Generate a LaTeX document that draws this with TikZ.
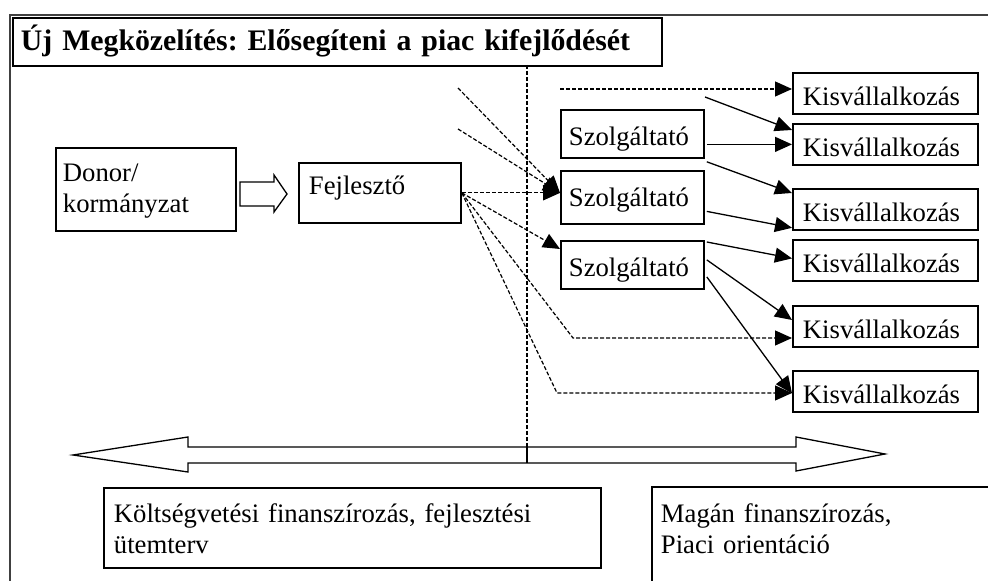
\documentclass[tikz,border=0pt]{standalone}
\usepackage{fontspec}
\setmainfont{Liberation Serif}
\usetikzlibrary{arrows.meta}
\usetikzlibrary{calc}

\definecolor{framegray}{gray}{0.25}
\newcommand{\diagfont}{\fontsize{13.35pt}{15.5pt}\selectfont}
\newcommand{\headfont}{\fontsize{14.9pt}{18pt}\selectfont\bfseries}
\frenchspacing

\tikzset{
    box/.style={draw, line width=0.9pt, anchor=north west, align=left, inner ysep=2pt},
    kbox/.style={box, text width=82.5pt, inner xsep=5pt, text height=14.5pt, text depth=2pt},
    sbox/.style={box, text width=63.5pt, inner xsep=4pt, text height=16pt, text depth=4pt},
    link/.style={line width=0.65pt, -{Triangle[length=8.5pt,width=7.5pt]}},
    dlink/.style={link, line width=0.6pt, dash pattern=on 2pt off 1pt},
}

\begin{document}
\begin{tikzpicture}[x=0.5pt, y=-0.5pt, font=\diagfont]

\useasboundingbox (0,0) rectangle (988,581);

% Frame
\draw[framegray, line width=1pt] (988,15) -- (10,15) -- (10,581);

% Title
\node[box, text width=316.5pt, inner xsep=4pt, text height=14.5pt, text depth=5.5pt, font=\headfont] (title) at (12,17)
    {\mbox{Új Megközelítés: Elősegíteni a piac kifejlődését}};

% Boxes
\node[box, text width=83pt, inner xsep=3.5pt, text height=15pt, text depth=22.5pt] (donor) at (55,147) {Donor/\\kormányzat};
\node[box, text width=71pt, inner xsep=5pt, text height=14pt, text depth=12pt] (fej) at (298,162) {Fejlesztő};

\node[sbox] (sz1) at (560,109) {Szolgáltató};
\node[sbox, text depth=6.5pt] (sz2) at (560,170) {Szolgáltató};
\node[sbox] (sz3) at (560,240) {Szolgáltató};

\node[kbox] (k1) at (792,72) {Kisvállalkozás};
\node[kbox] (k2) at (792,123) {Kisvállalkozás};
\node[kbox] (k3) at (792,188) {Kisvállalkozás};
\node[kbox] (k4) at (792,239) {Kisvállalkozás};
\node[kbox] (k5) at (792,305) {Kisvállalkozás};
\node[kbox] (k6) at (792,370) {Kisvállalkozás};

\node[box, text width=238.5pt, inner xsep=5pt, text height=15.5pt, text depth=20.5pt] (kolt) at (103,487)
    {Költségvetési finanszírozás, fejlesztési\\ütemterv};
\node[box, draw=none, text width=160pt, inner xsep=4pt, text height=15.5pt, text depth=27.5pt] (magan) at (652,487)
    {Magán finanszírozás,\\Piaci orientáció};
\draw[line width=0.9pt] (magan.south west) -- (magan.north west) -- (magan.north east);

% Hollow arrows
\draw[line width=0.65pt] (240,182) -- (274,182) -- (274,175) -- (287,194) -- (274,212) -- (274,206) -- (240,206) -- cycle;
\draw[line width=0.65pt] (73,455) -- (188,437) -- (188,447) -- (796,447) -- (796,437) -- (885,454)
    -- (796,471) -- (796,463) -- (188,463) -- (188,472) -- cycle;

% Coordinates
\coordinate (divtop) at (527,65);
\coordinate (divmid) at (527,447);
\coordinate (divlow) at (527,463);
\coordinate (d1) at (560,89);
\coordinate (d2) at (458,88);
\coordinate (d3) at (458,129);
\coordinate (c5) at (573,338);
\coordinate (c6) at (557,393);
\coordinate (s0) at (705,97);
\coordinate (hub) at (fej.east -| sz2.west);

% Divider
\draw[line width=0.6pt, dash pattern=on 2pt off 1pt] (divtop) -- (divmid);
\draw[line width=0.65pt] (divmid) -- (divlow);

% Dashed links
\draw[dlink] (d1) -- (d1 -| k1.west);
\draw[dlink] (d2) -- (hub);
\draw[dlink] (d3) -- (hub);
\draw[dlink] (fej.east) -- (hub);
\draw[dlink] (fej.east) -- ($(sz3.north west)+(0,9)$);
\draw[dlink] (fej.east) -- (c5) -- (c5 -| k5.west);
\draw[dlink] (fej.east) -- (c6) -- (c6 -| k6.west);

% Solid links
\draw[link] (s0) -- ($(k2.north west)+(0,7)$);
\draw[link] ($(sz1.east |- k2.west)+(2,0)$) -- (k2.west);
\draw[link] ($(sz1.south east)+(2,3)$) -- ($(k3.north west)+(0,5)$);
\draw[link] ($(sz2.east)+(2,14)$) -- ($(k3.south west)+(0,-3)$);
\draw[link] ($(sz3.north east)+(2,2)$) -- ($(k4.west)+(0,-2)$);
\draw[link] ($(sz3.east)+(2,-5)$) -- ($(k5.north west)+(0,15)$);
\draw[link] ($(sz3.east)+(2,12)$) -- ($(k6.west)+(0,2)$);

\end{tikzpicture}
\end{document}
